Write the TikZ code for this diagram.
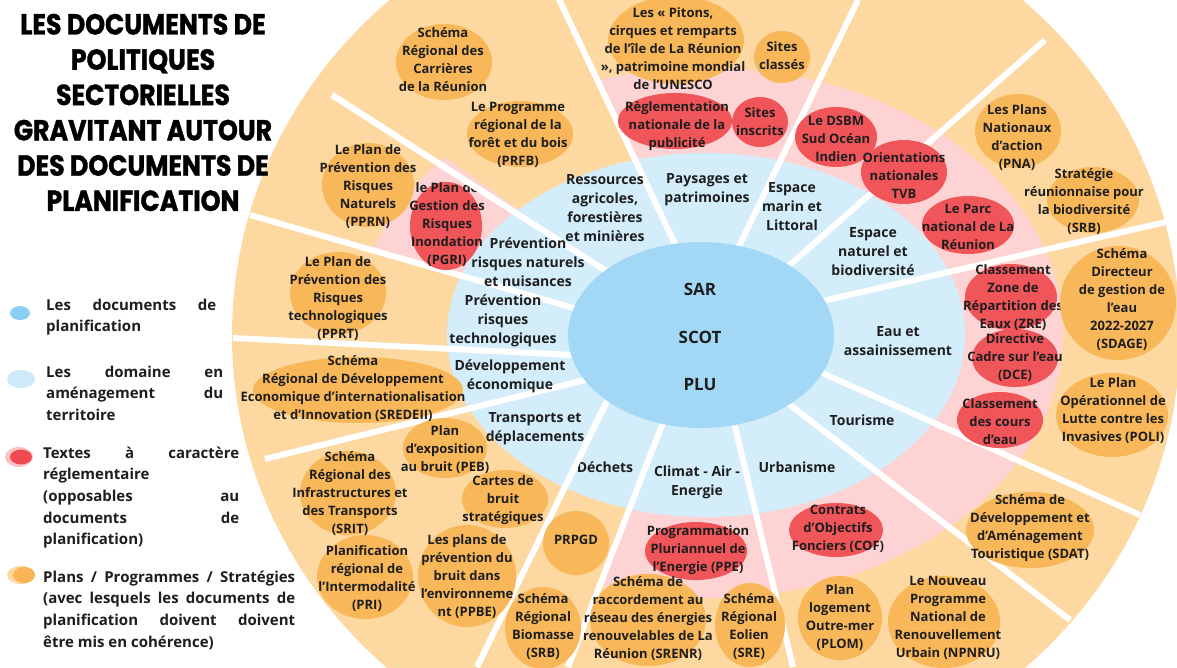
\documentclass[tikz,border=0pt]{standalone}
\usepackage{fontspec}
\setmainfont{Open Sans}
\newfontfamily\titlefont{Poppins}[FakeStretch=0.87, BoldFeatures={FakeBold=1.2}]
\usetikzlibrary{calc}
\definecolor{peach}{HTML}{FDD8A1}
\definecolor{orng}{HTML}{F8B85A}
\definecolor{pinkr}{HTML}{FDD3D4}
\definecolor{redr}{HTML}{F0555A}
\definecolor{lblue}{HTML}{D3EDFB}
\definecolor{cblue}{HTML}{A2D8F6}
\definecolor{ink}{HTML}{1E1E1E}
\definecolor{dotblue}{HTML}{8DCFF4}
\definecolor{dotlblue}{HTML}{CDEAFB}
\definecolor{dothalo}{HTML}{F9C3C5}
\definecolor{dotred}{HTML}{EF4A50}
\definecolor{dotpeach}{HTML}{FCD8A0}
\definecolor{dotorng}{HTML}{F8B455}
\tikzset{
  ptxt/.style={align=center, inner sep=0pt, text=ink, font=\fontsize{13}{18}\selectfont\bfseries},
  dtxt/.style={align=center, inner sep=0pt, text=ink, font=\fontsize{14}{19}\selectfont\bfseries},
  ctxt/.style={inner sep=0pt, text=ink, font=\fontsize{17}{20}\selectfont\bfseries},
  leg/.style={align=left, inner sep=0pt, text=ink, anchor=north west, font=\fontsize{15}{21.6}\selectfont\bfseries},
  spoke/.style={draw=white, line width=6pt},
  plan/.style={fill=orng},
  regl/.style={fill=redr},
}
\newcommand\blob[5]{\fill[#1] (#2,#3) ellipse [x radius=#4pt, y radius=#5pt];}
\begin{document}
\begin{tikzpicture}[x=1pt,y=-1pt]
\useasboundingbox (0,0) rectangle (1177,667);
\fill[white] (0,0) rectangle (1177,667);
\begin{scope}
\clip (0,0) rectangle (1177,667);
% outer ring
\fill[peach] (706,335) ellipse [x radius=474pt, y radius=450pt];
% pink ring (regulatory) in some sectors
\begin{scope}
  \clip (701,335) -- (675,244) -- (557,0) -- (498,-122) -- (1400,-300) -- (1400,1000) -- (500,842) -- (568,667) -- (662,425) -- cycle;
  \fill[pinkr] (706,333) ellipse [x radius=357pt, y radius=265pt];
\end{scope}
\begin{scope}
  \clip (701,335) -- (570,307) -- (88,175) -- (306,59) -- (600,267) -- cycle;
  \fill[pinkr] (706,333) ellipse [x radius=350pt, y radius=265pt];
\end{scope}
% domain ring
\fill[lblue] (706,335) ellipse [x radius=259pt, y radius=182pt];
% spokes
\coordinate (a1) at (600,267); \coordinate (a2) at (332,95);
\coordinate (b1) at (570,307); \coordinate (b2) at (250,215);
\coordinate (c1) at (572,355); \coordinate (c2) at (233,338);
\coordinate (d1) at (585,380); \coordinate (d2) at (265,459);
\coordinate (e1) at (605,405); \coordinate (e2) at (477,667);
\coordinate (f1) at (662,425); \coordinate (f2) at (568,667);
\coordinate (g1) at (735,427); \coordinate (g2) at (793,667);
\coordinate (h1) at (790,405); \coordinate (h2) at (1070,620);
\coordinate (i1) at (820,372); \coordinate (i2) at (1140,515);
\coordinate (j1) at (827,300); \coordinate (j2) at (1166,222);
\coordinate (k1) at (793,262); \coordinate (k2) at (1045,40);
\coordinate (l1) at (742,240); \coordinate (l2) at (858,0);
\coordinate (m1) at (675,244); \coordinate (m2) at (557,-5);
\foreach \s in {a,b,c,d,e,f,g,h,i,j,k,l,m}{
  \draw[spoke] ($(\s2)!1.15!(\s1)$) -- (\s2);
}
% domain labels
\node[dtxt] (res) at (605,208.5) {Ressources\\agricoles,\\forestières\\et minières};
\node[dtxt] (pay) at (707,190) {Paysages et\\patrimoines};
\node[dtxt] (mar) at (792,207) {Espace\\marin et\\Littoral};
\node[dtxt] (nat) at (873,251.5) {Espace\\naturel et\\biodiversité};
\node[dtxt] (eau) at (898,341) {Eau et\\assainissement};
\node[dtxt] (tou) at (862,420) {Tourisme};
\node[dtxt] (urb) at (797,467) {Urbanisme};
\node[dtxt] (cli) at (697,482.5) {Climat - Air -\\Energie};
\node[dtxt] (dec) at (605,467) {Déchets};
\node[dtxt] (tra) at (535,429) {Transports et\\déplacements};
\node[dtxt] (dev) at (510,376) {Développement\\économique};
\node[dtxt] (tec) at (503,321) {Prévention\\risques\\technologiques};
\node[dtxt] (nav) at (528,262) {Prévention\\risques naturels\\et nuisances};
% the spoke next to "déplacements" runs over its last letter
\draw[spoke] ($(e2)!1.15!(e1)$) -- ($(e1)!0.25!(e2)$);
% centre
\fill[cblue] (701,335) ellipse [x radius=133pt, y radius=93pt];
\node[ctxt] (sar) at (700,289) {SAR};
\node[ctxt] (scot) at (700,337) {SCOT};
\node[ctxt] (plu) at (700,385) {PLU};
% regulatory ellipses
\blob{regl}{446}{226}{36}{44}
\blob{regl}{675}{121}{57}{28}
\blob{regl}{760}{122}{28}{25}
\blob{regl}{836}{137}{41}{30}
\blob{regl}{904}{172}{43}{32}
\blob{regl}{968}{225}{46}{29}
\blob{regl}{1011}{297}{46}{33}
\blob{regl}{1015}{358}{43}{29}
\blob{regl}{1000}{420}{43}{28}
\blob{regl}{836}{530}{47}{27}
\blob{regl}{696}{551}{51}{29}
% plans
\blob{plan}{444}{62}{48}{38}
\blob{plan}{520}{134}{53}{33}
\blob{plan}{368}{185}{46}{42}
\blob{plan}{338}{293}{48}{41}
\blob{plan}{358}{390}{105}{33}
\blob{plan}{445}{448}{42}{30}
\blob{plan}{348}{493}{48}{42}
\blob{plan}{505}{499}{43}{29}
\blob{plan}{576}{543}{33}{32}
\blob{plan}{365}{577}{48}{42}
\blob{plan}{467}{576}{49}{51}
\blob{plan}{543}{628}{38}{41}
\blob{plan}{648}{620}{58}{46}
\blob{plan}{750}{625}{35}{42}
\blob{plan}{840}{618}{42}{42}
\blob{plan}{944}{622}{56}{46}
\blob{plan}{1030}{530}{64}{38}
\blob{plan}{1112}{415}{56}{42}
\blob{plan}{1093}{200}{46}{33}
\blob{plan}{1018}{131}{43}{37}
\blob{plan}{782}{57}{28}{26}
\blob{plan}{676}{40}{68}{44}
% ZRE text goes under the SDAGE disc
\node[ptxt] (zre) at (1013,297.5) {Classement\\Zone de\\Répartition des\\Eaux (ZRE)};
\blob{plan}{1118}{303}{58}{57}
% regulatory texts
\node[ptxt] (pgri) at (447,225) {le Plan de\\Gestion des\\Risques\\Inondation\\(PGRI)};
\node[ptxt] (pub) at (677,126) {Règlementation\\nationale de la\\publicité};
\node[ptxt] (inscr) at (760,122) {Sites\\inscrits};
\node[ptxt] (dsbm) at (836,138.5) {Le DSBM\\Sud Océan\\Indien};
\node[ptxt] (tvb) at (904,176) {Orientations\\nationales\\TVB};
\node[ptxt] (parc) at (968,227) {Le Parc\\national de La\\Réunion};
\node[ptxt] (dce) at (1015,357.5) {Directive\\Cadre sur l'eau\\(DCE)};
\node[ptxt] (cours) at (1000,421.5) {Classement\\des cours\\d'eau};
\node[ptxt] (cof) at (838,528.5) {Contrats\\d'Objectifs\\Fonciers (COF)};
\node[ptxt] (ppe) at (698,550.5) {Programmation\\Pluriannuel de\\l'Energie (PPE)};
% plan texts
\node[ptxt] (car) at (443,60) {Schéma\\Régional des\\Carrières\\de la Réunion};
\node[ptxt] (prfb) at (518,135) {Le Programme\\régional de la\\forêt et du bois\\(PRFB)};
\node[ptxt] (pprn) at (368,187) {Le Plan de\\Prévention des\\Risques\\Naturels\\(PPRN)};
\node[ptxt] (pprt) at (338,299) {Le Plan de\\Prévention des\\Risques\\technologiques\\(PPRT)};
\node[ptxt] (sredeii) at (353,388.5) {Schéma\\Régional de Développement\\Economique d'internationalisation\\et d'Innovation (SREDEII)};
\node[ptxt] (peb) at (445,449.5) {Plan\\d'exposition\\au bruit (PEB)};
\node[ptxt] (srit) at (350,494) {Schéma\\Régional des\\Infrastructures et\\des Transports\\(SRIT)};
\node[ptxt] (cartes) at (503,500.5) {Cartes de\\bruit\\stratégiques};
\node[ptxt] (prpgd) at (576,540) {PRPGD};
\node[ptxt] (pri) at (367,579) {Planification\\régional de\\l’Intermodalité\\(PRI)};
\node[ptxt] (ppbe) at (467,577) {Les plans de\\prévention du\\bruit dans\\l'environneme\\nt (PPBE)};
\node[ptxt] (srbio) at (543,626.5) {Schéma\\Régional\\Biomasse\\(SRB)};
\node[ptxt] (srenr) at (648,618.5) {Schéma de\\raccordement au\\réseau des énergies\\renouvelables de La\\Réunion (SRENR)};
\node[ptxt] (sre) at (749,626.5) {Schéma\\Régional\\Eolien\\(SRE)};
\node[ptxt] (plom) at (840,617.5) {Plan\\logement\\Outre-mer\\(PLOM)};
\node[ptxt] (npnru) at (948,618) {Le Nouveau\\Programme\\National de\\Renouvellement\\Urbain (NPNRU)};
\node[ptxt] (sdat) at (1030,528.5) {Schéma de\\Développement et\\d'Aménagement\\Touristique (SDAT)};
\node[ptxt] (poli) at (1113,411) {Le Plan\\Opérationnel de\\Lutte contre les\\Invasives (POLI)};
\node[ptxt] (sdage) at (1122,299.5) {Schéma\\Directeur\\de gestion de\\l'eau\\2022-2027\\(SDAGE)};
\node[ptxt] (srbd) at (1084,202) {Stratégie\\réunionnaise pour\\la biodiversité\\(SRB)};
\node[ptxt] (pna) at (1017,138) {Les Plans\\Nationaux\\d'action\\(PNA)};
\node[ptxt] (classes) at (782,56) {Sites\\classés};
\node[ptxt] (pitons) at (673,48.5) {Les «~Pitons,\\cirques et remparts\\de l’île de La Réunion\\», patrimoine mondial\\de l’UNESCO};
% the upper-left spoke runs over the PGRI text
\draw[spoke] (a2) -- ($(a2)!0.6!(a1)$);
\end{scope}
% legend
\fill[dotblue] (20,313) ellipse [x radius=10pt, y radius=7pt];
\fill[dotlblue] (21,379) ellipse [x radius=14pt, y radius=9pt];
\fill[dothalo] (19,457) ellipse [x radius=14pt, y radius=10pt];
\fill[dotred] (21,457) ellipse [x radius=11pt, y radius=7.5pt];
\fill[dotpeach] (21,575) ellipse [x radius=14pt, y radius=9pt];
\fill[dotorng] (24,575) ellipse [x radius=11pt, y radius=8pt];
\node[leg] (leg1) at (46,298.5) {\makebox[170pt][s]{Les documents de}\\planification};
\node[leg] (leg2) at (46,365.5) {\makebox[177pt][s]{Les domaine en}\\\makebox[177pt][s]{aménagement du}\\territoire};
\node[leg] (leg3) at (43,446.5) {\makebox[196pt][s]{Textes à caractère}\\réglementaire\\\makebox[196pt][s]{(opposables au}\\\makebox[196pt][s]{documents de}\\planification)};
\node[leg] (leg4) at (43,570.5) {\makebox[252pt][s]{Plans / Programmes / Stratégies}\\\makebox[252pt][s]{(avec lesquels les documents de}\\\makebox[252pt][s]{planification doivent doivent}\\être mis en cohérence)};
% title
\node[align=center, inner sep=0pt, text=black, font=\titlefont\bfseries\fontsize{29}{35.3}\selectfont] (title) at (143,112.5)
  {LES DOCUMENTS DE\\POLITIQUES\\SECTORIELLES\\GRAVITANT AUTOUR\\DES DOCUMENTS DE\\PLANIFICATION};
\end{tikzpicture}
\end{document}
